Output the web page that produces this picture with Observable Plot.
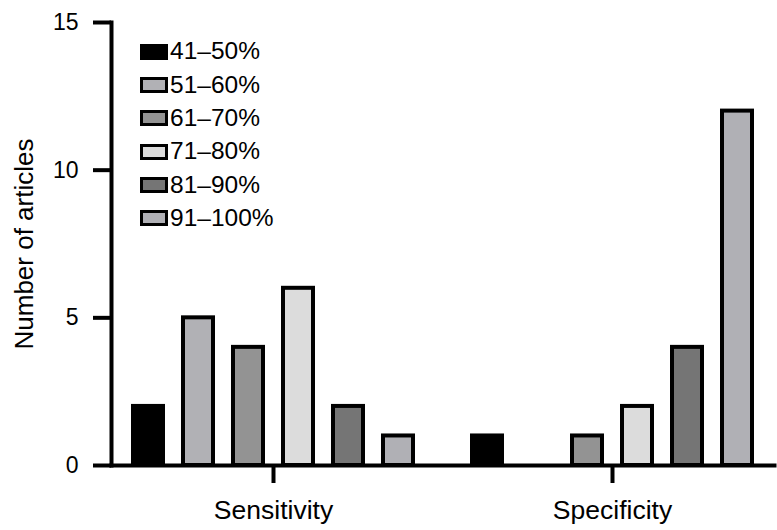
<!DOCTYPE html>
<html>
<head>
<meta charset="utf-8">
<script src="https://cdn.jsdelivr.net/npm/d3@7"></script>
<script src="https://cdn.jsdelivr.net/npm/@observablehq/plot@0.6"></script>
<style>
  html, body { margin: 0; padding: 0; background: #fff; }
  #wrap { position: relative; width: 777px; height: 530px; font-family: "Liberation Sans", Arial, Helvetica, sans-serif; }
  #legend { position: absolute; left: 140px; top: 35px; }
  .row { display: flex; align-items: center; height: 33.3px; }
  .sw { width: 28px; height: 16px; box-sizing: border-box; border: 3px solid #000; margin-right: 2px; }
  .lab { font-size: 24.5px; color: #000; line-height: 1; }
</style>
</head>
<body>
<div id="wrap"></div>
<script>
const groups = ["Sensitivity", "Specificity"];
const ranges = ["41–50%", "51–60%", "61–70%", "71–80%", "81–90%", "91–100%"];
const sensitivity = [2, 5, 4, 6, 2, 1];
const specificity = [1, 0, 1, 2, 4, 12];
const colors = ["#000000", "#b1b1b5", "#939393", "#dcdcdc", "#757575", "#b0b0b5"];
const yTicks = [0, 5, 10, 15];

const series = [sensitivity, specificity];
const data = groups.flatMap((g, gi) => ranges.map((r, i) => ({group: g, range: r, value: series[gi][i]})));

const font = "Liberation Sans, Arial, Helvetica, sans-serif";

const chart = Plot.plot({
  width: 777,
  height: 530,
  marginLeft: 110,
  marginRight: 2,
  marginTop: 22,
  marginBottom: 65,
  style: {fontFamily: font, fontSize: "24px", color: "#000", background: "#fff"},
  fx: {domain: groups, paddingInner: 0.044, paddingOuter: 0, label: null},
  x: {domain: ranges, paddingInner: 0.41, paddingOuter: 0.39, axis: null},
  y: {domain: [0, 15], label: "Number of articles"},
  color: {domain: ranges, range: colors},
  marks: [
    Plot.barY(data, {
      filter: d => d.value > 0,
      fx: "group", x: "range", y: "value",
      fill: "range", stroke: "#000", strokeWidth: 4
    }),
    Plot.frame({anchor: "bottom", stroke: "#000", strokeWidth: 4, facet: "super"}),
    Plot.frame({anchor: "left", stroke: "#000", strokeWidth: 4, facet: "super"}),
    Plot.axisY({
      ticks: yTicks, tickSize: 18, tickPadding: 15, strokeWidth: 4,
      fontSize: 23, label: null
    }),
    Plot.axisY({
      ticks: [], tickSize: 0, fontSize: 26,
      label: "Number of articles", labelAnchor: "center",
      labelArrow: "none", labelOffset: 97
    }),
    Plot.axisFx({
      anchor: "bottom", tickSize: 18, tickPadding: 17, strokeWidth: 4,
      fontSize: 26.5, label: null
    })
  ]
});

const wrap = document.getElementById("wrap");
wrap.appendChild(chart);

const legend = document.createElement("div");
legend.id = "legend";
ranges.forEach((r, i) => {
  const row = document.createElement("div");
  row.className = "row";
  const sw = document.createElement("div");
  sw.className = "sw";
  sw.style.background = colors[i];
  const lab = document.createElement("span");
  lab.className = "lab";
  lab.textContent = r;
  row.appendChild(sw);
  row.appendChild(lab);
  legend.appendChild(row);
});
wrap.appendChild(legend);
</script>
</body>
</html>
